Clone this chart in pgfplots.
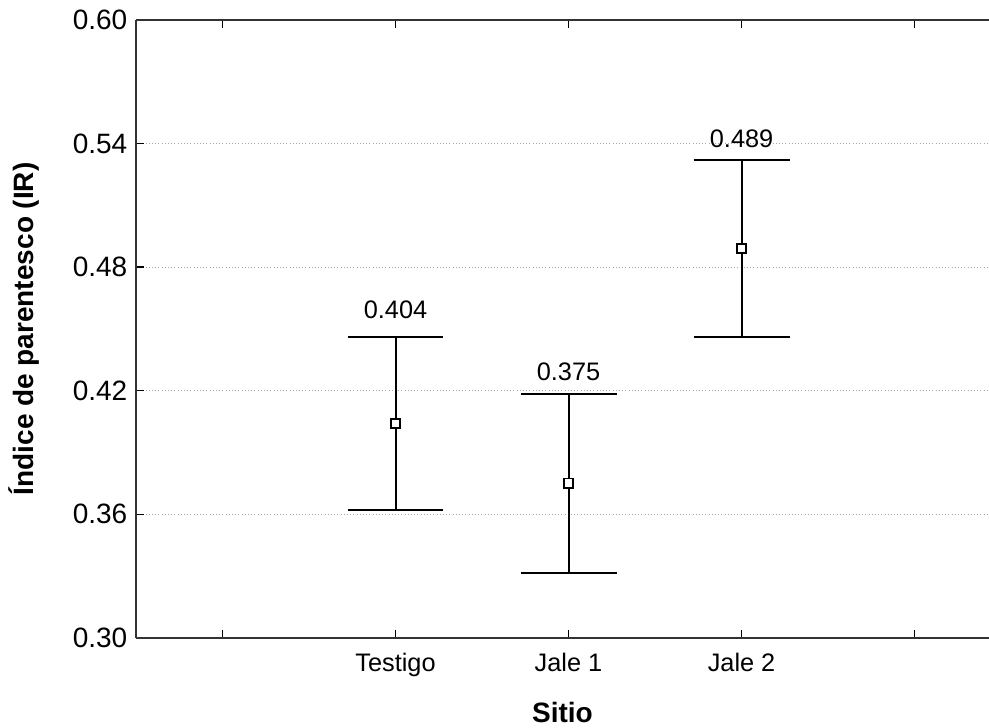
\documentclass[border=0pt]{standalone}
\usepackage{pgfplots}
\pgfplotsset{compat=1.18}
\usepackage{fontspec}
\setmainfont{Liberation Sans}
\begin{document}
\begin{tikzpicture}
\begin{axis}[
  scale only axis,
  width=640pt, height=463.5pt,
  xmin=-0.5, xmax=4.43,
  ymin=0.30, ymax=0.60,
  axis x line*=box,
  axis y line*=left,
  axis line style={line width=1.3pt, black!80},
  xtick={0,1,2,3,4},
  xticklabels={,Testigo,Jale 1,Jale 2,},
  ytick={0.30,0.36,0.42,0.48,0.54,0.60},
  /pgf/number format/assume math mode=true,
  yticklabel style={/pgf/number format/fixed, /pgf/number format/fixed zerofill, /pgf/number format/precision=2, font=\fontsize{21}{24}\selectfont, xshift=-3pt},
  tick align=inside,
  tick style={black, line width=1pt},
  major tick length=6pt,
  xtick pos=both,
  ytick pos=left,
  xticklabel style={font=\fontsize{19}{22}\selectfont, yshift=-8pt},
  ymajorgrids=true,
  grid style={dotted, gray!70, line width=0.8pt},
  xlabel={\textbf{Sitio}},
  ylabel={\textbf{Índice de parentesco (IR)}},
  xlabel style={font=\fontsize{21}{24}\selectfont, yshift=-12pt},
  ylabel style={font=\fontsize{21}{24}\selectfont, yshift=18pt},
  clip=false,
]
\addplot[black, line width=1.5pt, only marks,
  mark=square*, mark size=3.4pt, mark options={fill=white, line width=1pt},
  error bars/.cd, y dir=both, y explicit,
  error bar style={line width=1.5pt, black},
  error mark options={black, mark size=36pt, line width=1.5pt, rotate=90}]
coordinates {
  (1,0.404) +- (0,0.042)
  (2,0.375) +- (0,0.0435)
  (3,0.489) +- (0,0.043)
};
\addplot[draw=none, mark=none,
  nodes near coords, point meta=explicit symbolic,
  every node near coord/.append style={anchor=center, font=\fontsize{19}{22}\selectfont}]
coordinates {
  (1,0.4594) [0.404]
  (2,0.4290) [0.375]
  (3,0.5425) [0.489]
};
\end{axis}
\pgfresetboundingbox
\path ([shift={(-102pt,-67pt)}]current axis.south west) rectangle ([shift={(0pt,15pt)}]current axis.north east);
\end{tikzpicture}
\end{document}
